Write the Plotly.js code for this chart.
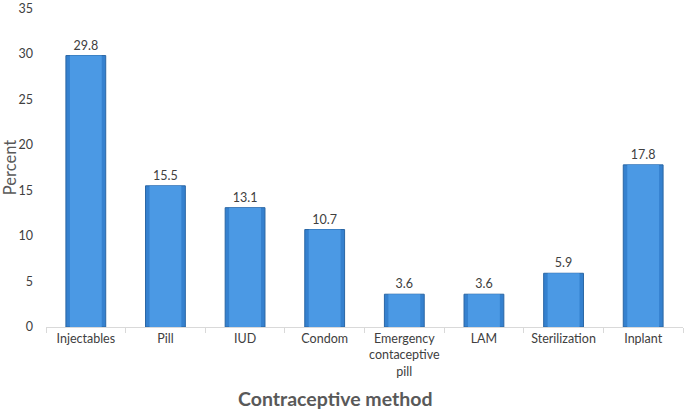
<!DOCTYPE html>
<html><head><meta charset="utf-8">
<script src="https://cdn.plot.ly/plotly-3.0.1.min.js"></script>
<style>html,body{margin:0;padding:0;background:#fff}#chart{width:685px;height:410px}</style>
</head><body><div id="chart"></div>
<script>
const categories = ["Injectables","Pill","IUD","Condom","Emergency<br>contaceptive<br>pill","LAM","Sterilization","Inplant"];
const percents = [29.8, 15.5, 13.1, 10.7, 3.6, 3.6, 5.9, 17.8];
const yTicks = [0,5,10,15,20,25,30,35];

const font = "Lato, 'Open Sans', sans-serif";
const traces = [
  {type:'bar', x:categories, y:percents, width:0.5,
   marker:{color:'#3581cf', line:{color:'#2a66a4', width:1}},
   text:percents.map(v=>v.toFixed(1)), textposition:'outside', cliponaxis:false,
   textfont:{family:font, size:12.5, color:'#404040'}, hoverinfo:'x+y'},
  {type:'bar', x:categories, y:percents, width:0.4,
   marker:{color:'#4b99e4', line:{width:0}}, hoverinfo:'skip'}
];
const layout = {
  width:685, height:410, margin:{l:46, r:2, t:8, b:83},
  paper_bgcolor:'#fff', plot_bgcolor:'#fff', showlegend:false, barmode:'overlay',
  font:{family:font, color:'#595959'},
  xaxis:{type:'category', showline:true, linecolor:'#d9d9d9', linewidth:1,
    ticks:'outside', tickson:'boundaries', ticklen:5, tickcolor:'#d9d9d9', tickangle:0,
    tickfont:{family:font, size:12.5, color:'#404040'}, showgrid:false},
  yaxis:{range:[0,35.02], tickvals:yTicks, showgrid:false, zeroline:false, showline:false,
    tickfont:{family:font, size:12.5, color:'#404040'}, ticks:'', ticklabelstandoff:12,
    ticklabeloverflow:'allow',
    title:{text:'Percent', font:{family:font, size:16.5, color:'#595959'}, standoff:4}},
  annotations:[{text:'<b>Contraceptive method</b>', xref:'paper', yref:'paper',
    x:0.454, y:-0.225, xanchor:'center', yanchor:'middle', showarrow:false,
    font:{family:font, size:19.5, color:'#595959'}}]
};
Plotly.newPlot('chart', traces, layout, {displayModeBar:false, staticPlot:true});
</script></body></html>
